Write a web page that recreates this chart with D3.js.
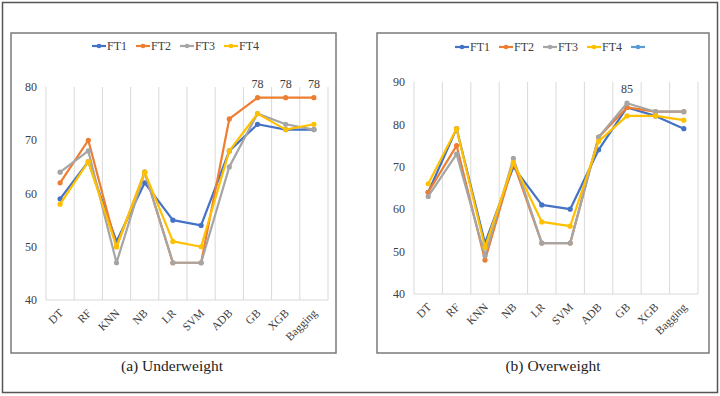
<!DOCTYPE html>
<html>
<head>
<meta charset="utf-8">
<script src="https://cdn.jsdelivr.net/npm/d3@7"></script>
<style>
	body { margin: 0; background: #fff; }
	svg text { font-family: "Liberation Serif", "DejaVu Serif", "Times New Roman", serif; }
</style>
</head>
<body>
<div id="wrapper"></div>
<script>
// data

const models = ["DT", "RF", "KNN", "NB", "LR", "SVM", "ADB", "GB", "XGB", "Bagging"];
const seriesNames = ["FT1", "FT2", "FT3", "FT4"];
const seriesColors = ["#4472C4", "#ED7D31", "#A5A5A5", "#FFC000"];

const underFT1 = [59, 66, 51, 62, 55, 54, 68, 73, 72, 72];
const underFT2 = [62, 70, 50, 64, 47, 47, 74, 78, 78, 78];
const underFT3 = [64, 68, 47, 64, 47, 47, 65, 75, 73, 72];
const underFT4 = [58, 66, 50, 64, 51, 50, 68, 75, 72, 73];
const underTicks = [40, 50, 60, 70, 80];

const overFT1 = [64, 79, 52, 70, 61, 60, 74, 84, 82, 79];
const overFT2 = [64, 75, 48, 71, 52, 52, 77, 84, 83, 83];
const overFT3 = [63, 73, 49, 72, 52, 52, 77, 85, 83, 83];
const overFT4 = [66, 79, 51, 71, 57, 56, 76, 82, 82, 81];
const overTicks = [40, 50, 60, 70, 80, 90];

// svg

const width = 720, height = 396;
const serif = "'Liberation Serif', 'DejaVu Serif', serif";

const svg = d3.select("#wrapper")
	.append("svg")
	.attr("width", width)
	.attr("height", height)
	.attr("font-family", serif);

// outer frame
svg.append("rect")
	.attr("x", 2.5).attr("y", 2.5)
	.attr("width", 715).attr("height", 390)
	.attr("fill", "none")
	.attr("stroke", "#555")
	.attr("stroke-width", 1.5);

function drawPanel(p) {
	// chart frame
	svg.append("rect")
		.attr("x", p.frame[0]).attr("y", p.frame[1])
		.attr("width", p.frame[2]).attr("height", p.frame[3])
		.attr("fill", "none")
		.attr("stroke", "#7a7a7a")
		.attr("stroke-width", 1.5);

	const xScale = d3.scaleBand()
		.domain(models)
		.range([p.left, p.right]);

	const yScale = d3.scaleLinear()
		.domain(p.domain)
		.range([p.bottom, p.top]);

	const g = svg.append("g");

	// vertical gridlines at band edges
	const edges = models.map(m => xScale(m)).concat([p.right]);
	g.selectAll(".vgrid")
		.data(edges)
		.join("line")
		.attr("x1", d => d).attr("x2", d => d)
		.attr("y1", p.top).attr("y2", p.bottom)
		.attr("stroke", "#d9d9d9")
		.attr("stroke-width", 1);

	g.append("line")
		.attr("x1", p.left).attr("x2", p.right)
		.attr("y1", p.bottom).attr("y2", p.bottom)
		.attr("stroke", "#d9d9d9");

	// y tick labels
	g.selectAll(".ytick")
		.data(p.ticks)
		.join("text")
		.attr("font-family", serif)
		.attr("x", p.left - 9)
		.attr("y", d => yScale(d))
		.attr("dy", "0.35em")
		.attr("text-anchor", "end")
		.attr("font-size", 12)
		.attr("fill", "#404040")
		.text(d => d);

	// x tick labels, rotated
	g.selectAll(".xtick")
		.data(models)
		.join("text")
		.attr("font-family", serif)
		.attr("transform", d => `translate(${xScale(d) + xScale.bandwidth() / 2 + 1},${p.bottom + 11}) rotate(-45)`)
		.attr("text-anchor", "end")
		.attr("dy", "0.35em")
		.attr("font-size", 11.5)
		.attr("fill", "#404040")
		.text(d => d);

	// lines
	const line = d3.line()
		.x((d, i) => xScale(models[i]) + xScale.bandwidth() / 2)
		.y(d => yScale(d));

	p.series.forEach((vals, s) => {
		g.append("path")
			.datum(vals)
			.attr("d", line)
			.attr("fill", "none")
			.attr("stroke", seriesColors[s])
			.attr("stroke-width", 2.2)
			.attr("stroke-linejoin", "round");
		g.selectAll(null)
			.data(vals)
			.join("circle")
			.attr("cx", (d, i) => xScale(models[i]) + xScale.bandwidth() / 2)
			.attr("cy", d => yScale(d))
			.attr("r", 2.6)
			.attr("fill", seriesColors[s]);
	});

	// data labels
	p.labels.forEach(([si, idx]) => {
		const v = p.series[si][idx];
		g.append("text")
			.attr("font-family", serif)
			.attr("x", xScale(models[idx]) + xScale.bandwidth() / 2)
			.attr("y", yScale(v) - 10)
			.attr("text-anchor", "middle")
			.attr("font-size", 12)
			.attr("fill", "#404040")
			.text(v);
	});

	// legend
	const legendItems = p.legendColors.map((c, i) => ({color: c, name: seriesNames[i] || ""}));
	const lg = g.append("g").attr("transform", `translate(${p.legendX},${p.legendY})`);
	let cx = 0;
	legendItems.forEach(item => {
		lg.append("line")
			.attr("x1", cx).attr("x2", cx + 14)
			.attr("y1", 0).attr("y2", 0)
			.attr("stroke", item.color)
			.attr("stroke-width", 2.2);
		lg.append("circle")
			.attr("cx", cx + 7).attr("cy", 0).attr("r", 2.3)
			.attr("fill", item.color);
		const t = lg.append("text")
			.attr("font-family", serif)
			.attr("x", cx + 15)
			.attr("y", 0)
			.attr("dy", "0.35em")
			.attr("font-size", 12)
			.attr("fill", "#404040")
			.text(item.name);
		cx += 15 + (item.name ? t.node().getComputedTextLength() + 9 : 0);
	});

	// caption
	svg.append("text")
		.attr("font-family", serif)
		.attr("x", p.captionX)
		.attr("y", 371)
		.attr("text-anchor", "middle")
		.attr("font-size", 15.5)
		.attr("fill", "#222")
		.text(p.caption);
}

drawPanel({
	frame: [11, 33, 325, 320],
	left: 46, right: 328, top: 87, bottom: 300,
	domain: [40, 80],
	ticks: underTicks,
	series: [underFT1, underFT2, underFT3, underFT4],
	labels: [[1, 7], [1, 8], [1, 9]],
	legendColors: seriesColors,
	legendX: 92, legendY: 46,
	caption: "(a) Underweight",
	captionX: 172
});

drawPanel({
	frame: [377, 33, 332, 320],
	left: 414, right: 698, top: 82, bottom: 294,
	domain: [40, 90],
	ticks: overTicks,
	series: [overFT1, overFT2, overFT3, overFT4],
	labels: [[2, 7]],
	legendColors: seriesColors.concat(["#5B9BD5"]),
	legendX: 455, legendY: 47,
	caption: "(b) Overweight",
	captionX: 553
});
</script>
</body>
</html>
